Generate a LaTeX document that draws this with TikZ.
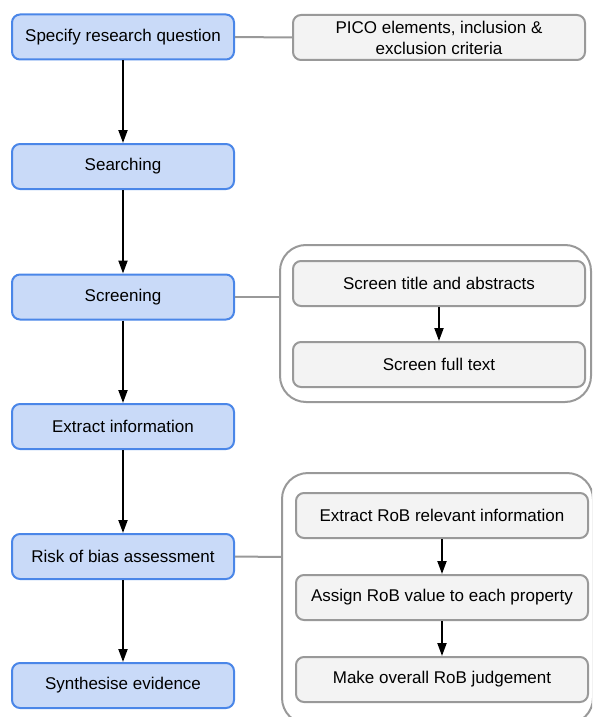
\documentclass[tikz,border=0pt]{standalone}
\usepackage{fontspec}
\setmainfont{Liberation Sans}
\usetikzlibrary{arrows.meta}
\definecolor{stepfill}{HTML}{C9DAF8}
\definecolor{stepline}{HTML}{4A86E8}
\definecolor{subfill}{HTML}{F3F3F3}
\definecolor{subline}{HTML}{999999}
\tikzset{
  stepbox/.style={draw=stepline, fill=stepfill, line width=2pt, rounded corners=8pt,
    minimum width=222pt, minimum height=45pt, inner sep=0pt, align=center,
    font=\fontsize{17}{21}\selectfont},
  subbox/.style={draw=subline, fill=subfill, line width=2pt, rounded corners=8pt,
    minimum width=292pt, minimum height=45pt, inner sep=0pt, align=center,
    font=\fontsize{17}{21}\selectfont},
  groupbox/.style={draw=subline, line width=2pt, rounded corners=26pt},
  flow/.style={draw=black, line width=2pt, -{Triangle[length=13pt,width=9pt]}},
  link/.style={draw=subline, line width=2pt},
}
\begin{document}
\begin{tikzpicture}[x=1pt,y=-1pt]
  \useasboundingbox (0,0) rectangle (592,717);
  \begin{scope}
    \clip (0,0) rectangle (592,717);
    % group outlines
    \draw[groupbox] (280,245) rectangle (591,402);
    \coordinate (g1w) at (280,297);
    \draw[groupbox] (282,473) rectangle (593,724);
    \coordinate (g2w) at (282,557);
  \end{scope}

  % main process steps
  \node[stepbox] (q)   at (123,37)    {Specify research question};
  \node[stepbox] (s)   at (123,166.5) {Searching};
  \node[stepbox] (sc)  at (123,297)   {Screening};
  \node[stepbox] (ex)  at (123,426.5) {Extract information};
  \node[stepbox] (rob) at (123,556.5) {Risk of bias assessment};
  \node[stepbox] (syn) at (123,685.5) {Synthesise evidence};

  % detail boxes
  \node[subbox] (pico) at (439,37.5) {PICO elements, inclusion \&\\exclusion criteria};
  \node[subbox] (st)   at (439,283.5) {Screen title and abstracts};
  \node[subbox] (sf)   at (439,364.5) {Screen full text};
  \node[subbox] (r1)   at (442,515.5) {Extract RoB relevant information};
  \node[subbox] (r2)   at (442,597.5) {Assign RoB value to each property};
  \node[subbox] (r3)   at (442,679.5) {Make overall RoB judgement};

  % main flow
  \draw[flow] (q) -- (s);
  \draw[flow] (s) -- (sc);
  \draw[flow] (sc) -- (ex);
  \draw[flow] (ex) -- (rob);
  \draw[flow] (rob) -- (syn);

  % sub flows
  \draw[flow] (st) -- (sf);
  \draw[flow] (r1) -- (r2);
  \draw[flow] (r2) -- (r3);

  % links to details
  \draw[link] (q.east) -- (pico.west);
  \draw[link] (sc.east) -- (g1w);
  \draw[link] (rob.east) -- (g2w);
\end{tikzpicture}
\end{document}
